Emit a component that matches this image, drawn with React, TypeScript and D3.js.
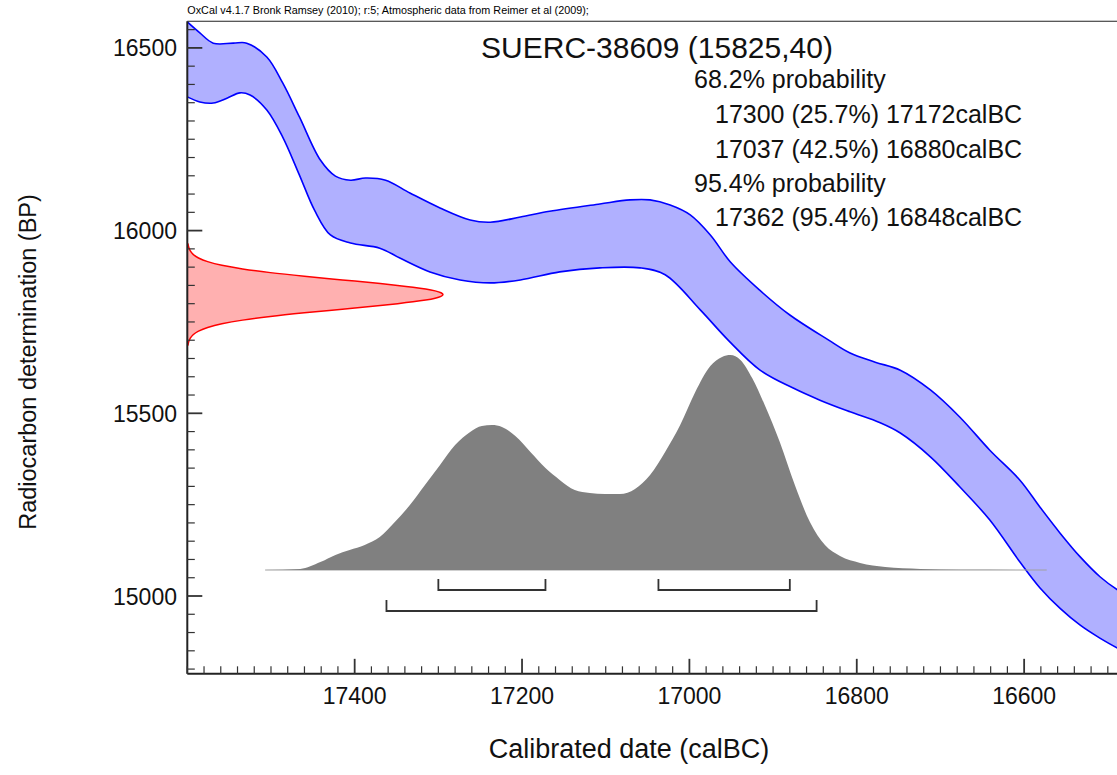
import React from 'react';
import * as d3 from 'd3';

// ---------- data ----------
const headerText = 'OxCal v4.1.7 Bronk Ramsey (2010); r:5; Atmospheric data from Reimer et al (2009);';
const titleText = 'SUERC-38609 (15825,40)';
const infoHeads = ['68.2% probability', '95.4% probability'];
const infoRanges68 = ['17300 (25.7%) 17172calBC', '17037 (42.5%) 16880calBC'];
const infoRanges95 = ['17362 (95.4%) 16848calBC'];

const xTickLabels = [17400, 17200, 17000, 16800, 16600];
const yTickLabels = [15000, 15500, 16000, 16500];
const xDomain = [17600, 16400];
const yDomain = [14787, 16573];

// calibration curve band, [calBC, BP]
const curveUpper: [number, number][] = [
  [17600, 16571], [17585, 16541], [17569, 16513], [17545, 16513], [17529, 16513],
  [17505, 16475], [17486, 16404], [17466, 16311], [17441, 16193], [17423, 16149],
  [17405, 16138], [17387, 16144], [17363, 16138], [17334, 16103], [17298, 16062],
  [17262, 16029], [17238, 16023], [17202, 16037], [17167, 16053], [17107, 16073],
  [17071, 16084], [17047, 16084], [17023, 16070], [16999, 16043], [16975, 15988],
  [16951, 15914], [16916, 15837], [16880, 15769], [16834, 15701], [16808, 15665],
  [16778, 15640], [16748, 15618], [16712, 15564], [16677, 15490], [16641, 15399],
  [16605, 15317], [16581, 15243], [16557, 15172], [16533, 15107], [16509, 15052],
  [16488, 15016], [16461, 14980],
];
const curveLower: [number, number][] = [
  [17600, 16366], [17585, 16352], [17569, 16349], [17552, 16363], [17537, 16377],
  [17525, 16371], [17505, 16330], [17486, 16256], [17466, 16152], [17448, 16056],
  [17429, 15988], [17405, 15966], [17370, 15952], [17346, 15925], [17310, 15887],
  [17274, 15865], [17238, 15857], [17202, 15865], [17155, 15887], [17107, 15898],
  [17059, 15898], [17029, 15879], [16987, 15783], [16954, 15701], [16916, 15619],
  [16876, 15569], [16844, 15536], [16808, 15504], [16772, 15474], [16748, 15446],
  [16712, 15381], [16677, 15299], [16641, 15208], [16605, 15093], [16581, 15022],
  [16557, 14966], [16533, 14920], [16509, 14884], [16488, 14857], [16461, 14828],
];

// calibrated probability, [calBC, relative density]
const calProb: [number, number][] = [
  [17507, 0], [17465, 0.005], [17441, 0.037], [17423, 0.07], [17406, 0.093],
  [17388, 0.116], [17370, 0.153], [17352, 0.223], [17334, 0.302], [17316, 0.395],
  [17298, 0.488], [17280, 0.581], [17262, 0.642], [17248, 0.67], [17236, 0.674],
  [17224, 0.665], [17208, 0.623], [17190, 0.549], [17172, 0.474], [17155, 0.419],
  [17137, 0.372], [17119, 0.358], [17101, 0.353], [17083, 0.353], [17065, 0.377],
  [17047, 0.442], [17029, 0.549], [17011, 0.674], [16993, 0.828], [16975, 0.949],
  [16961, 0.991], [16951, 1.0], [16939, 0.977], [16925, 0.893], [16910, 0.767],
  [16892, 0.595], [16874, 0.395], [16856, 0.223], [16838, 0.116], [16820, 0.065],
  [16796, 0.033], [16766, 0.014], [16724, 0.005], [16676, 0.001], [16573, 0],
];

// radiocarbon measurement, [BP, relative density]
const radioProb: [number, number][] = [
  [15685, 0.0022], [15705, 0.0111], [15715, 0.0228], [15725, 0.0439], [15735, 0.0796],
  [15745, 0.1353], [15755, 0.2163], [15765, 0.3247], [15775, 0.4578], [15785, 0.6065],
  [15795, 0.7548], [15800, 0.8226], [15805, 0.8825], [15810, 0.9321], [15815, 0.9692],
  [15820, 0.9922], [15825, 1.0], [15830, 0.9922], [15835, 0.9692], [15840, 0.9321],
  [15845, 0.8825], [15850, 0.8226], [15855, 0.7548], [15865, 0.6065], [15875, 0.4578],
  [15885, 0.3247], [15895, 0.2163], [15905, 0.1353], [15915, 0.0796], [15925, 0.0439],
  [15935, 0.0228], [15945, 0.0111], [15965, 0.0022],
];

const ranges68: [number, number][] = [[17300, 17172], [17037, 16880]];
const ranges95: [number, number][] = [[17362, 16848]];

// ---------- layout ----------
const W = 1117;
const H = 775;
const FONT = '"Liberation Sans", Arial, Helvetica, sans-serif';

export default function App() {
  const x = d3.scaleLinear().domain(xDomain).range([187.3, 1191.5]);
  const y = d3.scaleLinear().domain([15000, 16500]).range([596, 47.9]);
  const left = x(xDomain[0]);
  const top = y(yDomain[1]);
  const bottom = y(yDomain[0]);

  const bandLine = d3.line<[number, number]>()
    .x((d) => x(d[0]))
    .y((d) => y(d[1]))
    .curve(d3.curveCatmullRom.alpha(0.5));
  const upD = bandLine(curveUpper) || '';
  const lowD = bandLine(curveLower) || '';
  const lowRevD = bandLine(curveLower.slice().reverse()) || '';
  const bandFill = upD + lowRevD.replace(/^M/, 'L') + 'Z';

  const probH = d3.scaleLinear().domain([0, 1]).range([570, 355]);
  const calArea = d3.area<[number, number]>()
    .x((d) => x(d[0]))
    .y0(probH(0))
    .y1((d) => probH(d[1]))
    .curve(d3.curveMonotoneX);

  const radW = d3.scaleLinear().domain([0, 1]).range([left, 443]);
  const radArea = d3.area<[number, number]>()
    .y((d) => y(d[0]))
    .x0(left)
    .x1((d) => radW(d[1]))
    .curve(d3.curveMonotoneY);
  const radLine = d3.line<[number, number]>()
    .y((d) => y(d[0]))
    .x((d) => radW(d[1]))
    .curve(d3.curveMonotoneY);

  const xMinor = d3.range(xDomain[0], xDomain[1] - 1, -20);
  const yMinor = d3.range(14800, yDomain[1], 50);

  const infoX1 = 694;
  const infoX2 = 715;

  return (
    <svg
      width={W}
      height={H}
      style={{ position: 'absolute', left: 0, top: 0, background: '#fff' }}
      fontFamily={FONT}
    >
      <defs>
        <clipPath id="plotClip">
          <rect x={left} y={top} width={W - left} height={bottom - top} />
        </clipPath>
      </defs>
      <rect x={0} y={0} width={W} height={H} fill="#fff" />

      {/* header */}
      <text x={left} y={14} fontSize={10.8} fill="#000">{headerText}</text>
      <line x1={left} x2={W} y1={top} y2={top} stroke="#222" strokeWidth={1.2} />

      {/* calibration band */}
      <g clipPath="url(#plotClip)">
        <path d={bandFill} fill="#b0b0ff" stroke="none" />
        <path d={upD} fill="none" stroke="#0000ff" strokeWidth={1.6} />
        <path d={lowD} fill="none" stroke="#0000ff" strokeWidth={1.6} />
      </g>

      {/* radiocarbon measurement */}
      <path d={radArea(radioProb) || ''} fill="#ffb0b0" stroke="none" />
      <path d={radLine(radioProb) || ''} fill="none" stroke="#ff0000" strokeWidth={1.5} />

      {/* calibrated distribution */}
      <line x1={x(calProb[0][0])} x2={x(calProb[calProb.length - 1][0])} y1={probH(0)} y2={probH(0)} stroke="#a0a0a0" strokeWidth={1} />
      <path d={calArea(calProb) || ''} fill="#808080" stroke="none" />

      {/* ranges */}
      {ranges68.map((r, i) => (
        <path
          key={'r68' + i}
          d={`M${x(r[0])},579 V590 H${x(r[1])} V579`}
          fill="none"
          stroke="#333"
          strokeWidth={1.8}
        />
      ))}
      {ranges95.map((r, i) => (
        <path
          key={'r95' + i}
          d={`M${x(r[0])},600 V611 H${x(r[1])} V600`}
          fill="none"
          stroke="#333"
          strokeWidth={1.8}
        />
      ))}

      {/* axes */}
      <line x1={left} x2={left} y1={top} y2={bottom} stroke="#222" strokeWidth={2} />
      <line x1={left} x2={W} y1={bottom} y2={bottom} stroke="#222" strokeWidth={2} />
      {yMinor.map((v) => {
        const major = yTickLabels.includes(v);
        return (
          <line key={'yt' + v} x1={left} x2={left + (major ? 15 : 7.5)} y1={y(v)} y2={y(v)} stroke="#333" strokeWidth={major ? 1.8 : 1.2} />
        );
      })}
      {xMinor.map((v) => {
        const major = xTickLabels.includes(v);
        return (
          <line key={'xt' + v} x1={x(v)} x2={x(v)} y1={bottom} y2={bottom - (major ? 15 : 7.5)} stroke="#333" strokeWidth={major ? 1.8 : 1.2} />
        );
      })}
      {yTickLabels.map((v) => (
        <text key={'yl' + v} x={177} y={y(v) + 8.5} fontSize={23} textAnchor="end" fill="#111">{v}</text>
      ))}
      {xTickLabels.map((v) => (
        <text key={'xl' + v} x={x(v)} y={704} fontSize={23} textAnchor="middle" fill="#111">{v}</text>
      ))}

      {/* axis titles */}
      <text x={629} y={758} fontSize={27} textAnchor="middle" fill="#111">Calibrated date (calBC)</text>
      <text transform="translate(36,362) rotate(-90)" fontSize={23.5} textAnchor="middle" fill="#111">Radiocarbon determination (BP)</text>

      {/* title and info */}
      <text x={657} y={58} fontSize={30} textAnchor="middle" fill="#111">{titleText}</text>
      <text x={infoX1} y={88} fontSize={25} fill="#111">{infoHeads[0]}</text>
      {infoRanges68.map((t, i) => (
        <text key={'i68' + i} x={infoX2} y={123 + i * 34.5} fontSize={25} fill="#111">{t}</text>
      ))}
      <text x={infoX1} y={192} fontSize={25} fill="#111">{infoHeads[1]}</text>
      {infoRanges95.map((t, i) => (
        <text key={'i95' + i} x={infoX2} y={226 + i * 34.5} fontSize={25} fill="#111">{t}</text>
      ))}
    </svg>
  );
}
